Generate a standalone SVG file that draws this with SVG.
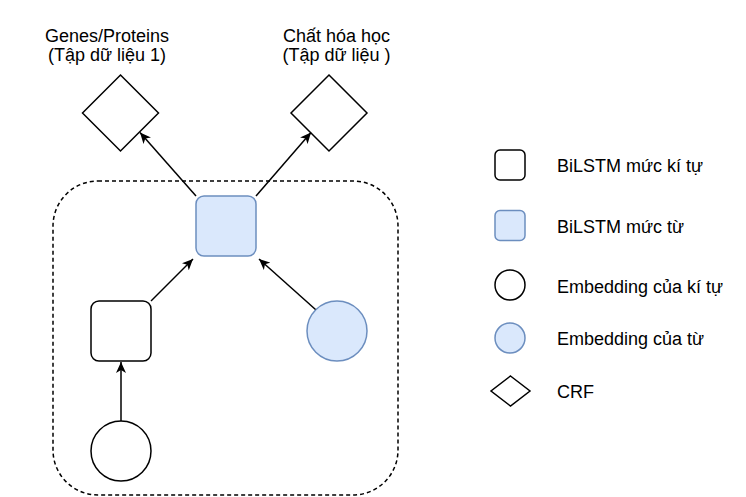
<svg xmlns="http://www.w3.org/2000/svg" width="746" height="497" viewBox="0 0 746 497">
<defs>
<marker id="arr" markerUnits="userSpaceOnUse" markerWidth="12" markerHeight="10" refX="11" refY="5" orient="auto" viewBox="0 0 12 10">
<path d="M0,0 L11,5 L0,10 L3,5 Z" fill="#000"/>
</marker>
<style>
.txt{font-family:"Liberation Sans",Arial,sans-serif;font-size:18px;fill:#000}
.mid{text-anchor:middle}
.plain{fill:#fff;stroke:#000;stroke-width:1.5}
.blue{fill:#dae8fc;stroke:#6c8ebf;stroke-width:1.5}
.edge{stroke:#000;stroke-width:1.5;fill:none;marker-end:url(#arr)}
.group{fill:none;stroke:#000;stroke-width:1.5;stroke-dasharray:4 3}
</style>
</defs>
<rect width="746" height="497" fill="#fff"/>
<g id="container">
<rect class="group" x="53" y="181" width="345" height="314" rx="45" ry="45"/>
</g>
<g id="crf-genes">
<polygon class="plain" points="120.5,75 158.5,113 120.5,151 82.5,113"/>
<text class="txt mid" x="107" y="42">Genes/Proteins</text>
<text class="txt mid" x="107" y="61">(Tập dữ liệu 1)</text>
</g>
<g id="crf-chem">
<polygon class="plain" points="329,75 367,113 329,151 291,113"/>
<text class="txt mid" x="336.5" y="42">Chất hóa học</text>
<text class="txt mid" x="336.5" y="61">(Tập dữ liệu )</text>
</g>
<g id="word-bilstm">
<rect class="blue" x="196" y="196" width="60" height="60" rx="8" ry="8"/>
</g>
<g id="char-bilstm">
<rect class="plain" x="91" y="301" width="60" height="60" rx="8" ry="8"/>
</g>
<g id="char-embedding">
<circle class="plain" cx="121" cy="451" r="30"/>
</g>
<g id="word-embedding">
<circle class="blue" cx="337" cy="331" r="30"/>
</g>
<g id="connectors">
<line class="edge" x1="196" y1="196" x2="140" y2="132.5"/>
<line class="edge" x1="256" y1="196" x2="311" y2="132.5"/>
<line class="edge" x1="151" y1="301" x2="193" y2="259"/>
<line class="edge" x1="315.5" y1="309.5" x2="259" y2="259"/>
<line class="edge" x1="121" y1="421" x2="121" y2="362"/>
</g>
<g id="legend-char-bilstm">
<rect class="plain" x="495" y="150" width="30" height="30" rx="5" ry="5"/>
<text class="txt" x="557" y="172">BiLSTM mức kí tự</text>
</g>
<g id="legend-word-bilstm">
<rect class="blue" x="495" y="210.5" width="30" height="30" rx="5" ry="5"/>
<text class="txt" x="557" y="233">BiLSTM mức từ</text>
</g>
<g id="legend-char-emb">
<circle class="plain" cx="510" cy="285" r="15"/>
<text class="txt" x="557" y="293">Embedding của kí tự</text>
</g>
<g id="legend-word-emb">
<circle class="blue" cx="510" cy="338" r="15"/>
<text class="txt" x="557" y="345">Embedding của từ</text>
</g>
<g id="legend-crf">
<polygon class="plain" points="510.5,376 530,391 510.5,406 491,391"/>
<text class="txt" x="557" y="398">CRF</text>
</g>
</svg>
